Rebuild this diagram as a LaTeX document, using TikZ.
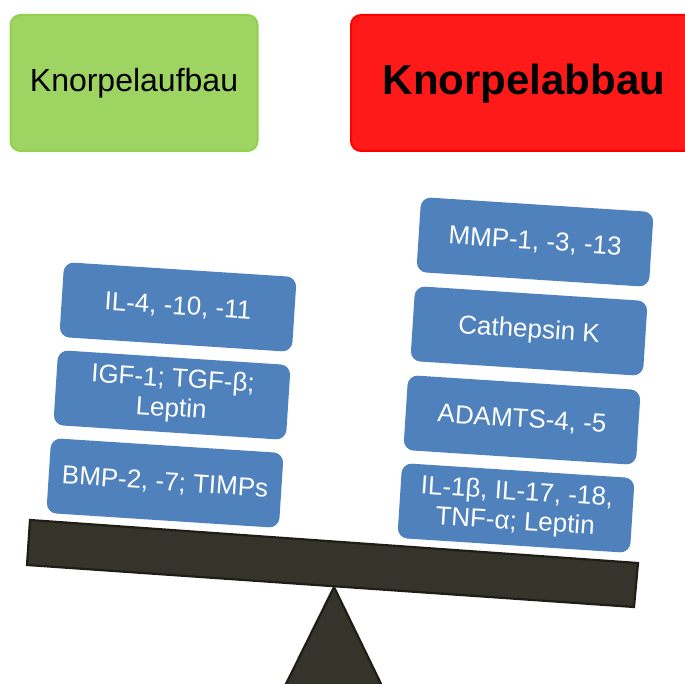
\documentclass[tikz,border=0pt]{standalone}
\usepackage{fontspec}
\setmainfont{Liberation Sans}
\definecolor{boxblue}{RGB}{79,129,189}
\definecolor{gfill}{RGB}{158,212,98}
\definecolor{gline}{RGB}{146,208,80}
\definecolor{rfill}{RGB}{255,26,26}
\definecolor{rline}{RGB}{255,0,0}
\definecolor{beamfill}{RGB}{53,52,42}
\definecolor{beamline}{RGB}{30,30,22}
\begin{document}
\begin{tikzpicture}[x=1pt,y=-1pt,
  factor/.style={rectangle, rounded corners=10pt, fill=boxblue, text=white,
    minimum width=233pt, minimum height=75pt, inner sep=2pt, align=center,
    font=\fontsize{26}{29.5}\selectfont, rotate=-3.7},
  topbox/.style={rectangle, rounded corners=10pt, line width=2pt, inner sep=0pt},
  beampart/.style={fill=beamfill, draw=beamline, line width=2.2pt, line join=miter}]
\useasboundingbox (0,0) rectangle (685,684);
\begin{scope}
\clip (0,0) rectangle (685,684);
% top boxes
\node[topbox, draw=gline, fill=gfill, minimum width=247pt, minimum height=136pt,
  font=\fontsize{32}{35}\selectfont] (aufbau) at (134,83) {Knorpelaufbau};
\draw[topbox, draw=rline, fill=rfill] (351,15) rectangle (700,151);
\node[font=\fontsize{42}{46}\selectfont\bfseries] (abbau) at (524,84) {Knorpelabbau};
% fulcrum and beam
\draw[beampart] (334,587) -- (384,690) -- (283,690) -- cycle;
\draw[beampart] (30,520) -- (638,563) -- (634,607) -- (27,565) -- cycle;
\end{scope}
% left factors
\node[factor] (l1) at (178,307) {IL-4, -10, -11};
\node[factor] (l2) at (172,395) {IGF-1; TGF-β;\\Leptin};
\node[factor] (l3) at (165,483) {BMP-2, -7; TIMPs};
% right factors
\node[factor] (r1) at (535,242) {MMP-1, -3, -13};
\node[factor] (r2) at (529,331) {Cathepsin K};
\node[factor] (r3) at (522,420) {ADAMTS-4, -5};
\node[factor] (r4) at (516,508) {IL-1β, IL-17, -18,\\TNF-α; Leptin};
\end{tikzpicture}
\end{document}
